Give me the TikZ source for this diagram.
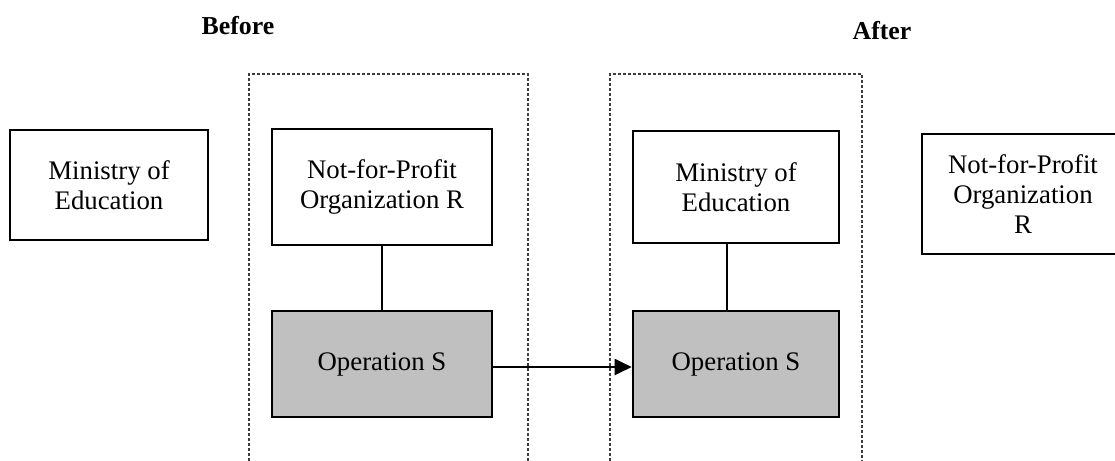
\documentclass[tikz,border=0pt]{standalone}
\usepackage{fontspec}
\setmainfont{Liberation Serif}
\usepackage{xcolor}
\usepackage{tikz}
\usetikzlibrary{arrows.meta}
\definecolor{opgray}{RGB}{192,192,192}
\definecolor{dashgray}{RGB}{60,60,60}
\tikzset{
	orgbox/.style={draw,line width=1.3pt,align=center,inner sep=0pt,
		font=\fontsize{13.4}{15}\selectfont},
	opbox/.style={orgbox,fill=opgray},
	framebox/.style={draw=dashgray,line width=0.6pt,dash pattern=on 1.6pt off 0.9pt},
	headlabel/.style={font=\fontsize{12.9}{15}\selectfont\bfseries}
}

\begin{document}
\begin{tikzpicture}[x=0.5pt,y=-0.5pt]
		\useasboundingbox (0,0) rectangle (1115,461);
		% labels
		\node[headlabel] (Bef) at (238,26) {Before};
		\node[headlabel] (Aft) at (882,31) {After};
		% dashed frames, open at the bottom
		\draw[framebox] (249,461) -- (249,74) -- (528,74) -- (528,461);
		\draw[framebox] (610,461) -- (610,74) -- (862,74) -- (862,461);
		%
		\node[orgbox,minimum width=99pt,minimum height=55pt] (M) at (109,185) {Ministry of\\Education};
		\node[orgbox,minimum width=110pt,minimum height=58pt] (N) at (382,187) {Not-for-Profit\\Organization R};
		\node[opbox,minimum width=110pt,minimum height=53pt] (S) at (382,364) {Operation S};
		\node[orgbox,minimum width=103pt,minimum height=56pt] (M') at (736,187) {Ministry of\\Education};
		\node[opbox,minimum width=103pt,minimum height=53pt] (S') at (736,364) {Operation S};
		\node[orgbox,minimum width=101pt,minimum height=60pt] (N') at (1023,194) {Not-for-Profit\\Organization\\R};
		%
		\path[line width=0.9pt]
		% vertical lines
		(N) edge (S)
		([xshift=-4.5pt]M'.south) edge ([xshift=-4.5pt]S'.north);
		% horizontal arrow
		\draw[-{Triangle[length=8.5pt,width=8pt]},line width=1pt] ([yshift=-1.5pt]S.east) -- ([yshift=-1.5pt]S'.west);
\end{tikzpicture}
\end{document}
